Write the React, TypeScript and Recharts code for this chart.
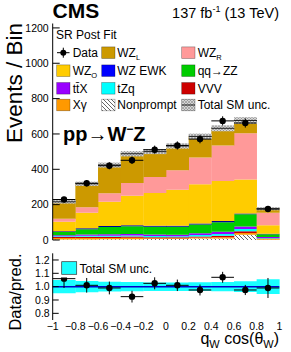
import React from 'react';
import { ComposedChart, Bar, XAxis, YAxis, Scatter, ErrorBar, ReferenceLine } from 'recharts';

const FONT = '"Liberation Sans", Arial, Helvetica, sans-serif';

// 10 bins of q_W cos(theta_W) from -1 to 1
const bins = ['b1', 'b2', 'b3', 'b4', 'b5', 'b6', 'b7', 'b8', 'b9', 'b10'];
const binCenters = [-0.9, -0.7, -0.5, -0.3, -0.1, 0.1, 0.3, 0.5, 0.7, 0.9];
const binHalfWidth = 0.1;

// stacked backgrounds, bottom -> top
const nonprompt = [3, 3, 4, 4, 5, 5, 8, 8, 30, 2];
const xGamma = [8, 9, 8, 9, 5, 5, 6, 8, 10, 3];
const vvv = [6, 7, 7, 7, 6, 5, 6, 8, 10, 4];
const tZq = [4, 5, 5, 6, 6, 6, 8, 10, 12, 3];
const ttX = [6, 7, 8, 8, 9, 8, 10, 12, 15, 5];
const qqZZ = [18, 30, 41, 44, 44, 46, 50, 55, 68, 15];
const wzEwk = [5, 5, 6, 6, 6, 6, 6, 6, 5, 4];
const wzO = [53, 88, 137, 167, 185, 204, 221, 227, 193, 48];
const wzR = [17, 32, 48, 71, 90, 109, 152, 200, 261, 70];
const wzL = [96, 132, 160, 166, 144, 138, 119, 98, 72, 23];
const totalUnc = [10, 12, 14, 15, 14, 15, 16, 17, 19, 9];

const dataCounts = [229, 321, 420, 451, 511, 535, 571, 674, 662, 175];
const dataErr = [15, 18, 20, 21, 23, 23, 24, 26, 26, 13];

const ratioVals = [1.06, 1.01, 0.99, 0.925, 1.025, 1.01, 0.975, 1.07, 0.975, 0.99];
const ratioErr = [0.07, 0.055, 0.048, 0.044, 0.045, 0.043, 0.041, 0.041, 0.038, 0.075];
const ratioUnc = [0.05, 0.042, 0.036, 0.034, 0.032, 0.032, 0.033, 0.035, 0.04, 0.055];

const xTicks = [-1, -0.8, -0.6, -0.4, -0.2, 0, 0.2, 0.4, 0.6, 0.8, 1];
const yTicks = [0, 200, 400, 600, 800, 1000, 1200];
const ratioTicks = [0.8, 0.9, 1.0, 1.1, 1.2];

const steps = (a: number, b: number, s: number) =>
  Array.from({ length: Math.round((b - a) / s) + 1 }, (_, i) => +(a + i * s).toFixed(4));
const xMinor = steps(-1, 1, 0.04);
const yMinor = steps(0, 1200, 50);
const ratioMinor = steps(0.8, 1.2, 0.05);

const rows = bins.map((bin, i) => {
  const total =
    nonprompt[i] + xGamma[i] + vvv[i] + tZq[i] + ttX[i] + qqZZ[i] + wzEwk[i] + wzO[i] + wzR[i] + wzL[i];
  return {
    bin,
    x: binCenters[i],
    nonprompt: nonprompt[i],
    xGamma: xGamma[i],
    vvv: vvv[i],
    tZq: tZq[i],
    ttX: ttX[i],
    qqZZ: qqZZ[i],
    wzEwk: wzEwk[i],
    wzO: wzO[i],
    wzR: wzR[i],
    wzL: wzL[i],
    band: [total - totalUnc[i], total + totalUnc[i]],
    data: dataCounts[i],
    dataErr: dataErr[i],
    xErr: binHalfWidth,
  };
});

const ratioRows = bins.map((bin, i) => ({
  bin,
  x: binCenters[i],
  band: [1 - ratioUnc[i], 1 + ratioUnc[i]],
  ratio: ratioVals[i],
  ratioErr: ratioErr[i],
  xErr: binHalfWidth,
}));

const stackSeries = [
  { key: 'nonprompt', fill: 'url(#npHatch)' },
  { key: 'xGamma', fill: '#ff9900' },
  { key: 'vvv', fill: '#cc0000' },
  { key: 'tZq', fill: '#00ffff' },
  { key: 'ttX', fill: '#9900ff' },
  { key: 'qqZZ', fill: '#00cc00' },
  { key: 'wzEwk', fill: '#000099' },
  { key: 'wzO', fill: '#ffcc00' },
  { key: 'wzR', fill: '#ff9999' },
  { key: 'wzL', fill: '#cc9900' },
];

const tickStyle = { fill: '#000', fontSize: 10.5, fontFamily: FONT };
const fmtX = (v: number) => (v === 0 ? '0' : v < 0 ? '\u2212' + Math.abs(v) : String(v));

const UncBand = (props: any) => {
  const { x, y, width, height } = props;
  if (width == null || height == null) return null;
  return (
    <g>
      <rect x={x} y={y} width={width} height={height} fill="url(#uncHatch)" />
      <line x1={x} x2={x + width} y1={y + height / 2} y2={y + height / 2} stroke="#222" strokeWidth={1} />
    </g>
  );
};

const Dot = (props: any) => <circle cx={props.cx} cy={props.cy} r={3.2} fill="#000" />;

const XLabel = (props: any) => {
  const { x, y, payload } = props;
  return (
    <text x={x} y={y + 1.5} textAnchor="middle" fontSize={10.5} fontFamily={FONT} fill="#000">
      {fmtX(payload.value)}
    </text>
  );
};

// frame axes: ticks pointing inwards, no labels
const frameX = (id: string, orientation: 'top' | 'bottom', ticks: number[], size: number, line: boolean) => (
  <XAxis
    key={id}
    xAxisId={id}
    orientation={orientation}
    type="number"
    domain={[-1, 1]}
    ticks={ticks}
    interval={0}
    allowDataOverflow
    mirror
    tick={false}
    tickSize={size}
    height={0}
    axisLine={line ? { stroke: '#000' } : false}
    tickLine={{ stroke: '#000' }}
  />
);

const frameY = (id: string, orientation: 'left' | 'right', domain: number[], ticks: number[], size: number, line: boolean) => (
  <YAxis
    key={id}
    yAxisId={id}
    orientation={orientation}
    type="number"
    domain={domain}
    ticks={ticks}
    interval={0}
    allowDataOverflow
    mirror
    tick={false}
    tickSize={size}
    width={0}
    axisLine={line ? { stroke: '#000' } : false}
    tickLine={{ stroke: '#000' }}
  />
);

const LegendBox = ({ x, y, fill }: { x: number; y: number; fill: string }) => (
  <rect x={x} y={y - 5.8} width={13.3} height={11.6} fill={fill} stroke="rgba(0,0,0,0.45)" strokeWidth={0.6} />
);

const Sub = ({ children }: { children: string }) => (
  <tspan fontSize={7.5} dy={2.5}>
    {children}
  </tspan>
);

const Overlay = () => {
  const rowsY = [52.7, 70.7, 88.3, 105];
  const boxX = [56.7, 101.7, 181.7];
  const textX = [72.7, 117.3, 197.7];
  const fs = 12;
  const base = (r: number) => rowsY[r] + 4.3;
  return (
    <svg width={291} height={352} style={{ position: 'absolute', left: 0, top: 0, pointerEvents: 'none' }} fontFamily={FONT}>
      <defs>
        <pattern id="npHatchL" patternUnits="userSpaceOnUse" width="4" height="4">
          <rect width="4" height="4" fill="#fff" />
          <path d="M-1,-1 L5,5 M-1,3 L1,5 M3,-1 L5,1" stroke="#555" strokeWidth="0.9" />
        </pattern>
        <pattern id="uncHatchL" patternUnits="userSpaceOnUse" width="3" height="3">
          <rect width="3" height="3" fill="#d6d6d6" />
          <path d="M0,0 L3,3 M3,0 L0,3" stroke="#8a8a8a" strokeWidth="0.6" />
        </pattern>
      </defs>

      <text x={52.5} y={17.5} fontSize={21} fontWeight="bold">CMS</text>
      <text x={279} y={17.5} fontSize={14.5} textAnchor="end">
        137 fb<tspan fontSize={9} dy={-6}>-1</tspan>
        <tspan dy={6}> (13 TeV)</tspan>
      </text>

      <text x={56} y={38.7} fontSize={fs}>SR Post Fit</text>

      {/* row 1 */}
      <line x1={57} x2={69.5} y1={rowsY[0]} y2={rowsY[0]} stroke="#000" strokeWidth={1} />
      <line x1={63.3} x2={63.3} y1={rowsY[0] - 5} y2={rowsY[0] + 5} stroke="#000" strokeWidth={1} />
      <circle cx={63.3} cy={rowsY[0]} r={3} fill="#000" />
      <text x={textX[0]} y={base(0)} fontSize={fs}>Data</text>
      <LegendBox x={boxX[1]} y={rowsY[0]} fill="#cc9900" />
      <text x={textX[1]} y={base(0)} fontSize={fs}>WZ<Sub>L</Sub></text>
      <LegendBox x={boxX[2]} y={rowsY[0]} fill="#ff9999" />
      <text x={textX[2]} y={base(0)} fontSize={fs}>WZ<Sub>R</Sub></text>

      {/* row 2 */}
      <LegendBox x={boxX[0]} y={rowsY[1]} fill="#ffcc00" />
      <text x={textX[0]} y={base(1)} fontSize={fs}>WZ<Sub>O</Sub></text>
      <LegendBox x={boxX[1]} y={rowsY[1]} fill="#0000ff" />
      <text x={textX[1]} y={base(1)} fontSize={fs}>WZ EWK</text>
      <LegendBox x={boxX[2]} y={rowsY[1]} fill="#00cc00" />
      <text x={textX[2]} y={base(1)} fontSize={fs}>qq→ZZ</text>

      {/* row 3 */}
      <LegendBox x={boxX[0]} y={rowsY[2]} fill="#9900ff" />
      <text x={textX[0]} y={base(2)} fontSize={fs}>t{'t\u0304'}X</text>
      <LegendBox x={boxX[1]} y={rowsY[2]} fill="#00ffff" />
      <text x={textX[1]} y={base(2)} fontSize={fs}>tZq</text>
      <LegendBox x={boxX[2]} y={rowsY[2]} fill="#cc0000" />
      <text x={textX[2]} y={base(2)} fontSize={fs}>VVV</text>

      {/* row 4 */}
      <LegendBox x={boxX[0]} y={rowsY[3]} fill="#ff9900" />
      <text x={textX[0]} y={base(3)} fontSize={fs}>Xγ</text>
      <LegendBox x={boxX[1]} y={rowsY[3]} fill="url(#npHatchL)" />
      <text x={textX[1]} y={base(3)} fontSize={fs}>Nonprompt</text>
      <LegendBox x={boxX[2]} y={rowsY[3]} fill="url(#uncHatchL)" />
      <line x1={boxX[2]} x2={boxX[2] + 13.3} y1={rowsY[3]} y2={rowsY[3]} stroke="#222" strokeWidth={1} />
      <text x={textX[2]} y={base(3)} fontSize={fs}>Total SM unc.</text>

      <text x={63} y={140.5} fontSize={20} fontWeight="bold">
        pp<tspan fontWeight="normal">→</tspan>W<tspan fontSize={12} dy={-8}>−</tspan>
        <tspan dy={8}>Z</tspan>
      </text>

      <text transform="translate(22,23) rotate(-90)" textAnchor="end" fontSize={22.5}>Events / Bin</text>

      {/* ratio legend */}
      <rect x={59} y={257} width={92} height={20.5} fill="#fff" />
      <rect x={61.7} y={261.7} width={15} height={12.6} fill="#1affff" stroke="#333" strokeWidth={0.7} />
      <text x={79.5} y={273.2} fontSize={fs}>Total SM unc.</text>

      <text transform="translate(20.5,253.5) rotate(-90)" textAnchor="end" fontSize={16.5}>Data/pred.</text>

      <text x={279} y={344} fontSize={16} textAnchor="end">
        q<tspan fontSize={11} dy={3.5}>W</tspan>
        <tspan dy={-3.5}> cos(θ</tspan>
        <tspan fontSize={11} dy={3.5}>W</tspan>
        <tspan dy={-3.5}>)</tspan>
      </text>
    </svg>
  );
};

const MAIN_DOMAIN = [0, 1225];
const RATIO_DOMAIN = [0.75, 1.25];

export default function App() {
  return (
    <div style={{ position: 'absolute', left: 0, top: 0, width: 291, height: 352, background: '#fff', overflow: 'hidden' }}>
      <div style={{ position: 'absolute', left: 0, top: 0 }}>
        <ComposedChart
          width={291}
          height={250}
          data={rows}
          margin={{ top: 23.5, right: 11.7, bottom: 10, left: 0 }}
          barCategoryGap={0}
          barGap={0}
        >
          <defs>
            <pattern id="npHatch" patternUnits="userSpaceOnUse" width="4" height="4">
              <rect width="4" height="4" fill="#fff" />
              <path d="M-1,-1 L5,5 M-1,3 L1,5 M3,-1 L5,1" stroke="#555" strokeWidth="0.9" />
            </pattern>
            <pattern id="uncHatch" patternUnits="userSpaceOnUse" width="3" height="3">
              <rect width="3" height="3" fill="#d6d6d6" />
              <path d="M0,0 L3,3 M3,0 L0,3" stroke="#8a8a8a" strokeWidth="0.6" />
            </pattern>
          </defs>
          <XAxis xAxisId="cat" dataKey="bin" type="category" hide />
          <XAxis xAxisId="cat2" dataKey="bin" type="category" hide />
          <XAxis xAxisId="num" dataKey="x" type="number" domain={[-1, 1]} allowDataOverflow hide />
          {frameX('bMaj', 'bottom', xTicks, 6, true)}
          {frameX('bMin', 'bottom', xMinor, 3, false)}
          {frameX('tMaj', 'top', xTicks, 6, true)}
          {frameX('tMin', 'top', xMinor, 3, false)}
          {frameY('lMin', 'left', MAIN_DOMAIN, yMinor, 3.5, false)}
          <YAxis
            yAxisId="main"
            type="number"
            domain={MAIN_DOMAIN}
            ticks={yTicks}
            interval={0}
            allowDataOverflow
            width={52.7}
            tickSize={-7}
            tickMargin={11}
            tick={tickStyle}
            axisLine={{ stroke: '#000' }}
            tickLine={{ stroke: '#000' }}
          />
          {frameY('rMaj', 'right', MAIN_DOMAIN, yTicks, 7, true)}
          {frameY('rMin', 'right', MAIN_DOMAIN, yMinor, 3.5, false)}

          {stackSeries.map((s) => (
            <Bar
              key={s.key}
              xAxisId="cat"
              yAxisId="main"
              stackId="bkg"
              dataKey={s.key}
              fill={s.fill}
              isAnimationActive={false}
            />
          ))}
          <Bar xAxisId="cat2" yAxisId="main" dataKey="band" shape={UncBand} isAnimationActive={false} />
          <Scatter xAxisId="num" yAxisId="main" dataKey="data" shape={Dot} isAnimationActive={false}>
            <ErrorBar dataKey="dataErr" direction="y" width={0} stroke="#000" strokeWidth={1} />
            <ErrorBar dataKey="xErr" direction="x" width={0} stroke="#000" strokeWidth={1} />
          </Scatter>
        </ComposedChart>
      </div>

      <div style={{ position: 'absolute', left: 0, top: 245 }}>
        <ComposedChart
          width={291}
          height={107}
          data={ratioRows}
          margin={{ top: 8.3, right: 11.7, bottom: 0, left: 0 }}
          barCategoryGap={0}
          barGap={0}
        >
          <XAxis
            xAxisId="num"
            dataKey="x"
            type="number"
            domain={[-1, 1]}
            ticks={xTicks}
            interval={0}
            allowDataOverflow
            height={32}
            tickLine={false}
            axisLine={false}
            tick={<XLabel />}
          />
          <XAxis xAxisId="cat" dataKey="bin" type="category" orientation="top" hide />
          {frameX('bMaj', 'bottom', xTicks, 5, true)}
          {frameX('bMin', 'bottom', xMinor, 2.5, false)}
          {frameX('tMaj', 'top', xTicks, 5, true)}
          {frameX('tMin', 'top', xMinor, 2.5, false)}
          {frameY('lMin', 'left', RATIO_DOMAIN, ratioMinor, 3, false)}
          <YAxis
            yAxisId="ratio"
            type="number"
            domain={RATIO_DOMAIN}
            ticks={ratioTicks}
            interval={0}
            allowDataOverflow
            width={52.7}
            tickSize={-6}
            tickMargin={9}
            tickFormatter={(v: number) => v.toFixed(1)}
            tick={tickStyle}
            axisLine={{ stroke: '#000' }}
            tickLine={{ stroke: '#000' }}
          />
          {frameY('rMaj', 'right', RATIO_DOMAIN, ratioTicks, 6, true)}
          {frameY('rMin', 'right', RATIO_DOMAIN, ratioMinor, 3, false)}

          <Bar xAxisId="cat" yAxisId="ratio" dataKey="band" fill="#1affff" isAnimationActive={false} />
          <ReferenceLine xAxisId="num" yAxisId="ratio" y={1} stroke="#0000cc" strokeWidth={1.5} />
          <Scatter xAxisId="num" yAxisId="ratio" dataKey="ratio" shape={Dot} isAnimationActive={false}>
            <ErrorBar dataKey="ratioErr" direction="y" width={0} stroke="#000" strokeWidth={1} />
            <ErrorBar dataKey="xErr" direction="x" width={0} stroke="#000" strokeWidth={1} />
          </Scatter>
        </ComposedChart>
      </div>

      <Overlay />
    </div>
  );
}
